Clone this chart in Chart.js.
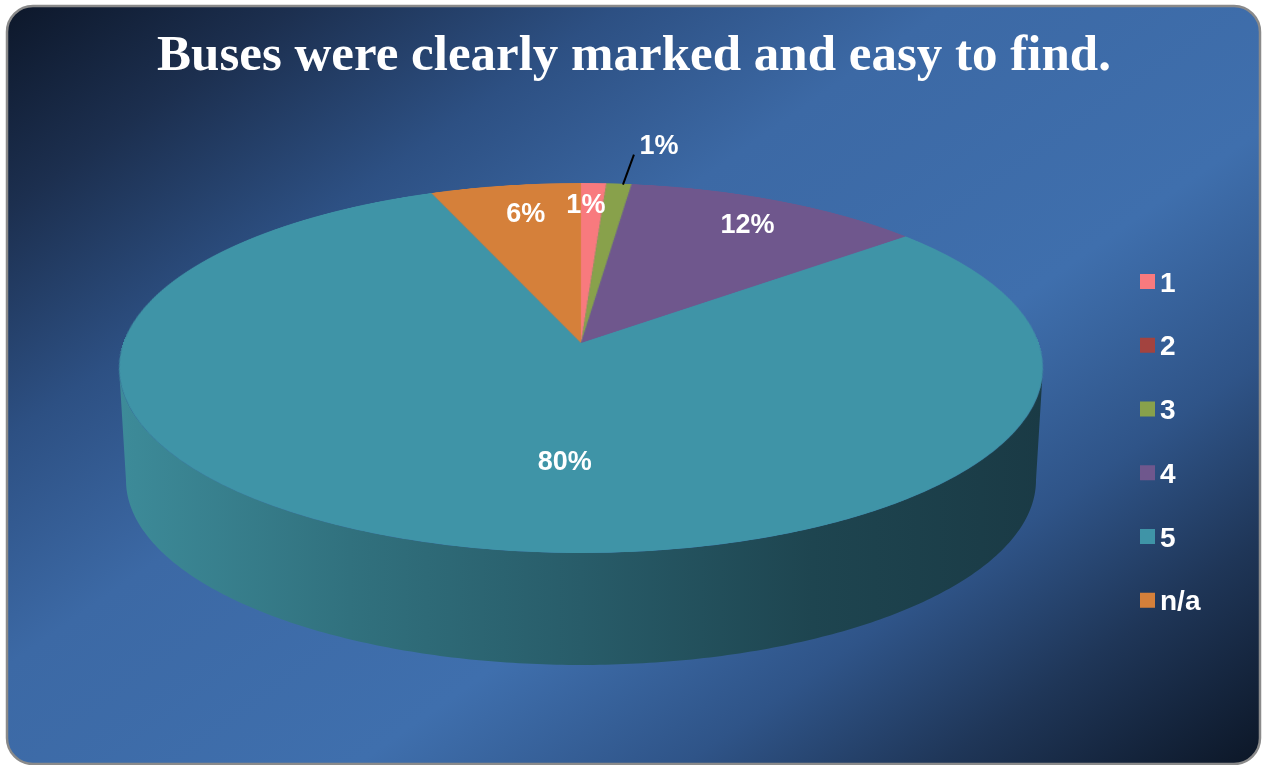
<!DOCTYPE html>
<html>
<head>
<meta charset="utf-8">
<script src="https://cdn.jsdelivr.net/npm/chart.js@4.4.1/dist/chart.umd.min.js"></script>
<style>
  html, body { margin: 0; padding: 0; background: #ffffff; }
  canvas { display: block; }
</style>
</head>
<body>
<canvas id="chart" width="1262" height="765"></canvas>
<script>
// Survey answers and their shares (percent)
const categories = ['1', '2', '3', '4', '5', 'n/a'];
const percentages = [1, 0, 1, 12, 80, 6];
const sliceColors = ['#f87a7e', '#a3433f', '#88a14b', '#6f578d', '#3f94a7', '#d5803a'];
const chartTitle = 'Buses were clearly marked and easy to find.';

// Perspective view of the pie disc: centre, vertical/horizontal scale, tilt and thickness
const VIEW = { cx: 581, cy: 343, A: 181.6, C: -0.1351, S: 457.7, depth: 112, baseShrink: 0.985 };

// Where each value label sits: fraction of radius and angular nudge (degrees)
const LABEL_PLACE = {
  '1':   { f: 0.85, dTheta: -1 },
  '3':   { f: 1.29, dTheta: 3.5, leader: true },
  '4':   { f: 0.82, dTheta: 0.3 },
  '5':   { f: 0.60, dTheta: -11.3 },
  'n/a': { f: 0.80, dTheta: 1.2 }
};

const LEGEND = { boxX: 1140, textX: 1160, firstY: 281.5, step: 63.75, box: 15 };
const LABEL_FONT = 'bold 27px "Liberation Sans", Arial, sans-serif';
const LEGEND_FONT = 'bold 28px "Liberation Sans", Arial, sans-serif';

function project(u, v, base) {
  const w = 1 + VIEW.C * v;
  return {
    x: VIEW.cx + VIEW.S * (base ? VIEW.baseShrink : 1) * u / w,
    y: VIEW.cy + (base ? VIEW.depth : 0) + VIEW.A * v / w
  };
}

// Background panel with rounded frame
const panelPlugin = {
  id: 'panel',
  beforeDraw(chart) {
    const ctx = chart.ctx;
    const W = chart.width, H = chart.height;
    ctx.save();
    ctx.fillStyle = '#ffffff';
    ctx.fillRect(0, 0, W, H);
    const x = 7, y = 6, w = 1253, h = 758, r = 26;
    const g = ctx.createLinearGradient(0, 0, 769, 1097);
    g.addColorStop(0.00, '#0c1628');
    g.addColorStop(0.13, '#1c2f4f');
    g.addColorStop(0.27, '#2d5083');
    g.addColorStop(0.41, '#3c69a5');
    g.addColorStop(0.62, '#3f6fad');
    g.addColorStop(0.76, '#2f5488');
    g.addColorStop(0.87, '#1f3658');
    g.addColorStop(1.00, '#0d1829');
    ctx.beginPath();
    ctx.roundRect(x, y, w, h, r);
    ctx.fillStyle = g;
    ctx.fill();
    ctx.lineWidth = 2.5;
    ctx.strokeStyle = '#8a8a8a';
    ctx.stroke();
    ctx.restore();
  }
};

// Draws the pie as a tilted 3D disc: side wall first, then the top face
const disc3dPlugin = {
  id: 'disc3d',
  beforeDatasetsDraw(chart) {
    const ctx = chart.ctx;
    const meta = chart.getDatasetMeta(0);
    const arcs = meta.data;
    if (!arcs.length) return false;

    // side wall: canvas angle phi gives u = cos(phi), v = sin(phi); widest where v = -C
    const phiR = Math.asin(-VIEW.C);
    const phiL = Math.PI - phiR;
    const steps = 240;
    ctx.save();
    ctx.beginPath();
    for (let i = 0; i <= steps; i++) {
      const p = phiR + (phiL - phiR) * i / steps;
      const pt = project(Math.cos(p), Math.sin(p), false);
      if (i === 0) ctx.moveTo(pt.x, pt.y); else ctx.lineTo(pt.x, pt.y);
    }
    for (let i = steps; i >= 0; i--) {
      const p = phiR + (phiL - phiR) * i / steps;
      const pt = project(Math.cos(p), Math.sin(p), true);
      ctx.lineTo(pt.x, pt.y);
    }
    ctx.closePath();
    const left = VIEW.cx - VIEW.S * 1.01, right = VIEW.cx + VIEW.S * 1.01;
    const sg = ctx.createLinearGradient(left, 0, right, 0);
    sg.addColorStop(0.00, '#3d8b99');
    sg.addColorStop(0.25, '#31717e');
    sg.addColorStop(0.50, '#285c69');
    sg.addColorStop(0.75, '#1e4550');
    sg.addColorStop(1.00, '#1a3a45');
    ctx.fillStyle = sg;
    ctx.fill();
    ctx.restore();

    // render the flat pie slices into an offscreen disc
    const R = 640;
    const off = document.createElement('canvas');
    off.width = 2 * R; off.height = 2 * R;
    const octx = off.getContext('2d');
    const ref = arcs[0];
    const k = R / ref.outerRadius;
    octx.setTransform(k, 0, 0, k, R - k * ref.x, R - k * ref.y);
    arcs.forEach(el => el.draw(octx));

    // map the disc onto the screen row by row with perspective foreshortening
    ctx.save();
    ctx.imageSmoothingEnabled = true;
    ctx.imageSmoothingQuality = 'high';
    const topY = VIEW.cy - VIEW.A / (1 - VIEW.C);
    const botY = VIEW.cy + VIEW.A / (1 + VIEW.C);
    for (let y = Math.floor(topY); y < Math.ceil(botY); y++) {
      const y0 = y - VIEW.cy, y1 = y + 1 - VIEW.cy;
      let v0 = y0 / (VIEW.A - VIEW.C * y0);
      let v1 = y1 / (VIEW.A - VIEW.C * y1);
      v0 = Math.max(-1, v0); v1 = Math.min(1, v1);
      if (v1 <= v0) continue;
      const vm = (v0 + v1) / 2;
      const halfW = VIEW.S / (1 + VIEW.C * vm);
      ctx.drawImage(off, 0, R + v0 * R, 2 * R, (v1 - v0) * R,
                    VIEW.cx - halfW, y, 2 * halfW, 1);
    }
    ctx.restore();
    return false;
  },
  afterDraw(chart) {
    const ctx = chart.ctx;
    const meta = chart.getDatasetMeta(0);
    const values = chart.data.datasets[0].data;
    ctx.save();
    ctx.font = LABEL_FONT;
    ctx.fillStyle = '#ffffff';
    ctx.textAlign = 'center';
    ctx.textBaseline = 'middle';
    meta.data.forEach((arc, i) => {
      const v = values[i];
      if (!v) return;
      const place = LABEL_PLACE[chart.data.labels[i]] || { f: 0.8, dTheta: 0 };
      const mid = (arc.startAngle + arc.endAngle) / 2;
      const phi = mid + (place.dTheta || 0) * Math.PI / 180;
      const p = project(place.f * Math.cos(phi), place.f * Math.sin(phi), false);
      if (place.leader) {
        const rim = project(Math.cos(mid), Math.sin(mid), false);
        ctx.save();
        ctx.strokeStyle = '#000000';
        ctx.lineWidth = 2;
        ctx.beginPath();
        ctx.moveTo(rim.x + 4, rim.y + 1);
        ctx.lineTo(p.x - 25, p.y + 9);
        ctx.stroke();
        ctx.restore();
      }
      ctx.fillText(v + '%', p.x, p.y + 1);
    });

    // legend
    ctx.font = LEGEND_FONT;
    ctx.textAlign = 'left';
    ctx.textBaseline = 'alphabetic';
    chart.data.labels.forEach((lab, i) => {
      const cy = LEGEND.firstY + i * LEGEND.step;
      ctx.fillStyle = sliceColors[i];
      ctx.fillRect(LEGEND.boxX, cy - LEGEND.box / 2, LEGEND.box, LEGEND.box);
      ctx.fillStyle = '#ffffff';
      ctx.fillText(lab, LEGEND.textX, cy + 10);
    });
    ctx.restore();
  }
};

new Chart(document.getElementById('chart'), {
  type: 'pie',
  data: {
    labels: categories,
    datasets: [{
      data: percentages,
      backgroundColor: sliceColors,
      borderWidth: 0
    }]
  },
  options: {
    responsive: false,
    animation: false,
    events: [],
    layout: { padding: { left: 6, right: 0, top: 0, bottom: 20 } },
    plugins: {
      legend: { display: false },
      tooltip: { enabled: false },
      title: {
        display: true,
        text: chartTitle,
        color: '#ffffff',
        font: { family: '"Liberation Serif", "Times New Roman", serif', size: 51, weight: 'bold' },
        padding: { top: 26, bottom: 10 }
      }
    }
  },
  plugins: [panelPlugin, disc3dPlugin]
});
</script>
</body>
</html>
